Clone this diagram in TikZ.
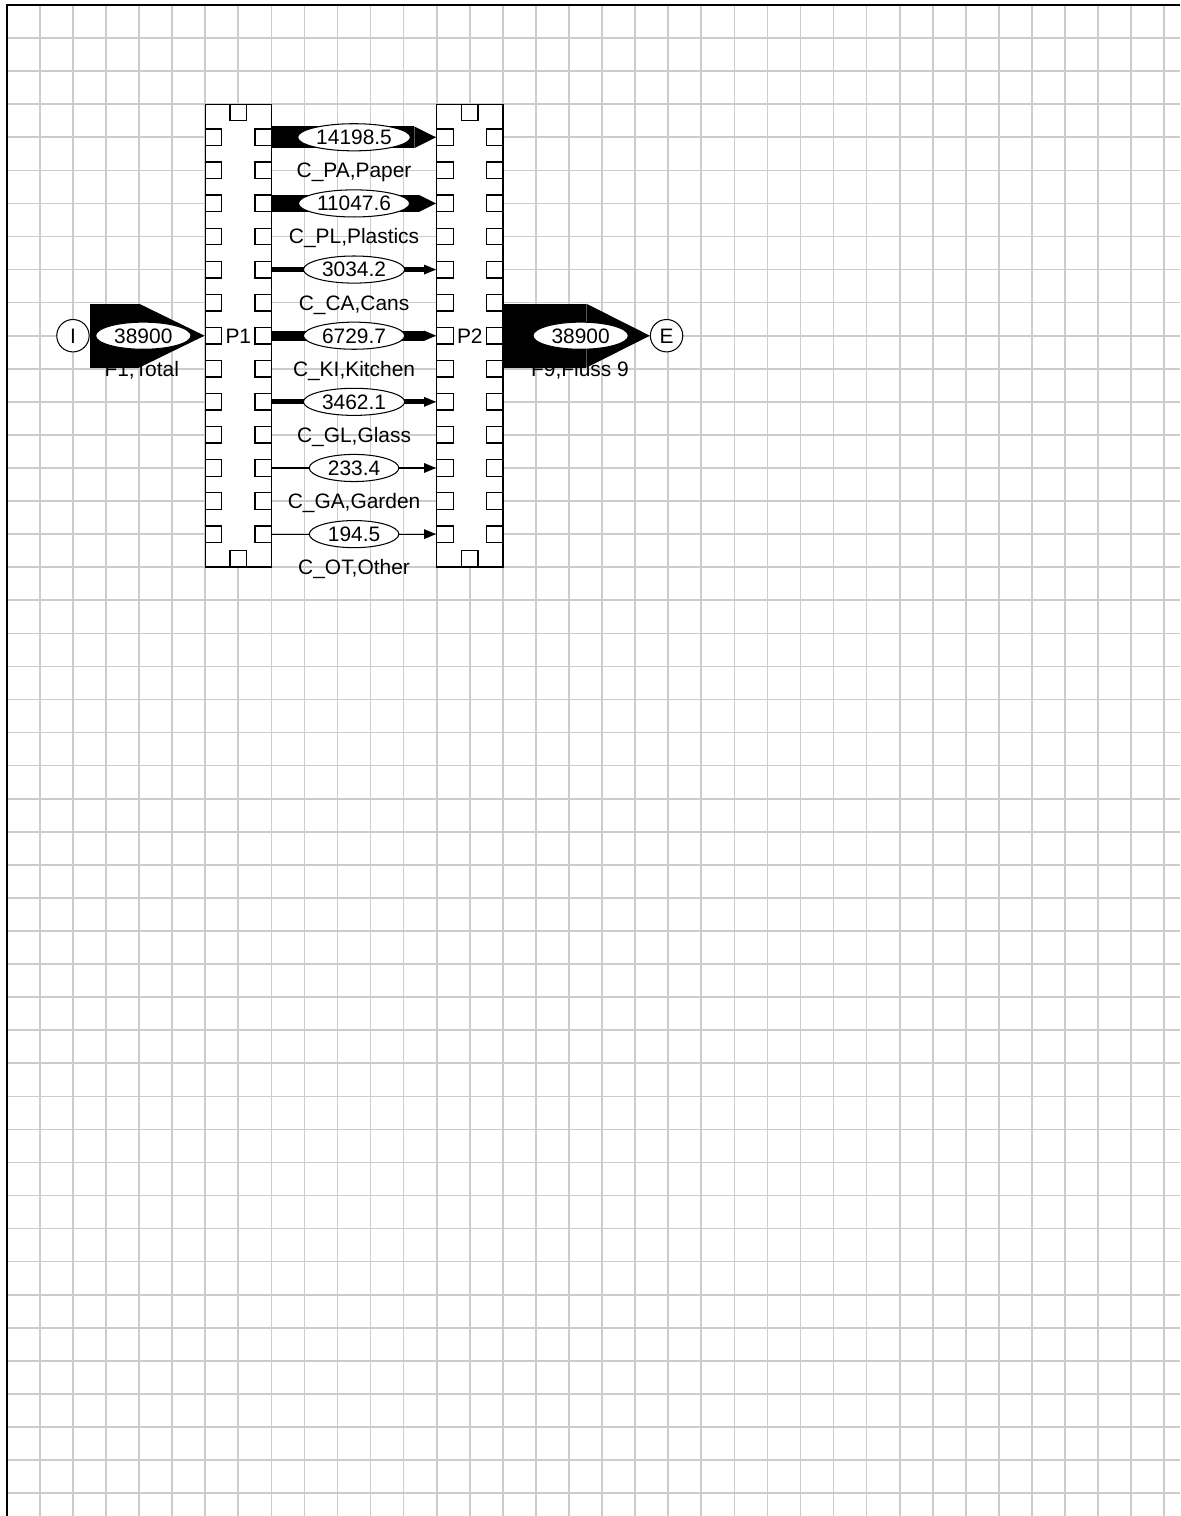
\documentclass[tikz,border=0pt]{standalone}
\usepackage{fontspec}
\setmainfont{Liberation Sans}
\usetikzlibrary{arrows.meta,shapes.geometric}
\definecolor{GridLine}{HTML}{CCCCCC}
\tikzset{
  cell/.style={draw=GridLine,line width=.7pt},
  frame/.style={draw=black,line width=.6pt},
  procbox/.style={draw=black,fill=white,line width=.6pt,minimum width=1cm,minimum height=7cm,inner sep=0pt},
  port/.style={draw=black,fill=white,line width=.6pt,minimum size=.25cm,inner sep=0pt},
  terminal/.style={circle,draw=black,fill=white,line width=.45pt,minimum size=.49cm,inner sep=0pt,text height=6.4pt,text depth=0pt},
  txt/.style={inner sep=0pt,text height=6.4pt,text depth=0pt},
  flowval/.style={ellipse,draw=black,fill=white,line width=.45pt,inner sep=0pt,minimum height=.41cm,text height=6.4pt,text depth=0pt},
  flow/.style={draw=black,line cap=butt}
}

\begin{document}
\fontsize{9}{11}\selectfont
\begin{tikzpicture}[x=.5cm,y=-.5cm]
  \useasboundingbox (-.206,-.151) rectangle (35.476,45.691);
  \fill[white] (-.206,-.151) rectangle (35.476,45.691);
  % sheet grid
  \foreach \gx in {1,...,35} \draw[cell] (\gx,0) -- (\gx,45.691);
  \foreach \gy in {1,...,45} \draw[cell] (0,\gy) -- (35.476,\gy);
  \draw[frame] (0,45.691) -- (0,0) -- (35.476,0);

  % processes with their ports
  \foreach \p/\cx in {1/7,2/14} {
    \node[procbox] (P\p) at (\cx,10) {};
    \node[port] (P\p-top) at (\cx,3.25) {};
    \node[port] (P\p-bot) at (\cx,16.75) {};
    \foreach \r in {4,...,16} {
      \node[port] (P\p-in-\r) at (\cx-.75,\r) {};
      \node[port] (P\p-out-\r) at (\cx+.75,\r) {};
    }
    \node[txt] (P\p-name) at (\cx,10) {P\p};
  }

  % input and export
  \node[terminal] (I) at (2,10) {I};
  \node[terminal] (E) at (19.95,10) {E};
  \node[txt] (in-lbl) at (4.08,11) {F1,Total};
  \node[txt] (out-lbl) at (17.33,11) {F9,Fluss 9};
  \draw[flow,line width=.9675cm,-{Triangle[length=.99cm,width=.9675cm,line width=0pt]}] (I) -- (P1-in-10)
    node[flowval,pos=.467,minimum width={width("38900")+16pt}] (in-val) {38900};
  \draw[flow,line width=.9675cm,-{Triangle[length=.96cm,width=.9675cm,line width=0pt]}] (P2-out-10) -- (E)
    node[flowval,pos=.527,minimum width={width("38900")+16pt}] (out-val) {38900};

  % collected fractions
  \foreach \r/\v/\n in {4/14198.5/{C\_PA,Paper},6/11047.6/{C\_PL,Plastics},8/3034.2/{C\_CA,Cans},
      10/6729.7/{C\_KI,Kitchen},12/3462.1/{C\_GL,Glass},14/233.4/{C\_GA,Garden},16/194.5/{C\_OT,Other}} {
    \pgfmathsetmacro{\t}{max(\v/3890*.09,.016)}
    \pgfmathsetmacro{\hl}{max(\t,.18)}
    \pgfmathsetmacro{\hw}{max(\t,.15)}
    \node[txt] (lbl-\r) at (10.5,\r+1) {\n};
    \draw[flow,line width=\t cm,-{Triangle[length=\hl cm,width=\hw cm,line width=0pt]}] (P1-out-\r) -- (P2-in-\r)
      node[flowval,midway,minimum width={width("\v")+16pt}] (val-\r) {\v};
  }
\end{tikzpicture}
\end{document}
